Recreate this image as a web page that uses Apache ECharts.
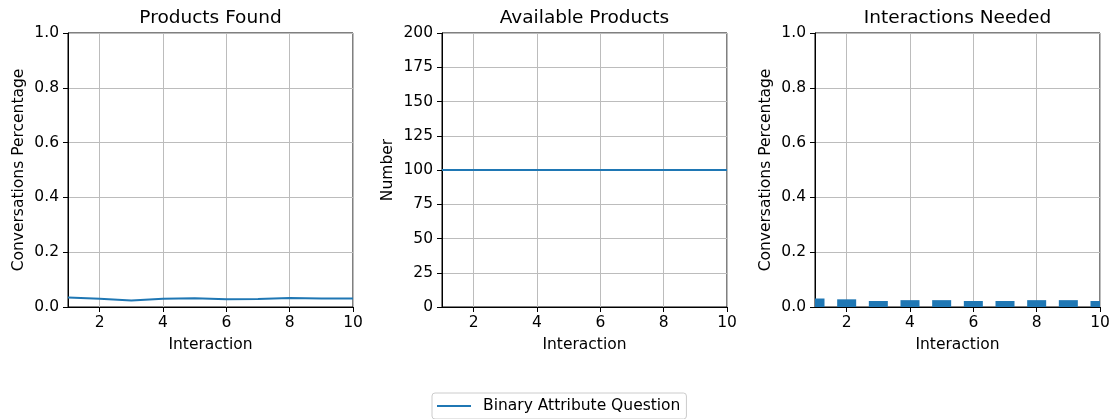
<!DOCTYPE html>
<html>
<head>
<meta charset="utf-8">
<script src="https://cdn.jsdelivr.net/npm/echarts@6/dist/echarts.min.js"></script>
<style>html,body{margin:0;padding:0;background:#fff;}#c{width:1113px;height:419px;}</style>
</head>
<body>
<div id="c"></div>
<script>
const interactions = [1, 2, 3, 4, 5, 6, 7, 8, 9, 10];
const productsFound = [0.035, 0.030, 0.024, 0.030, 0.032, 0.028, 0.029, 0.033, 0.031, 0.031];
const availableProducts = [100, 100, 100, 100, 100, 100, 100, 100, 100, 100];
const interactionsNeeded = [0.031, 0.028, 0.022, 0.025, 0.025, 0.022, 0.022, 0.025, 0.025, 0.022];
const barWidthUnits = 0.6;
const xTicks = [2, 4, 6, 8, 10];
const seriesName = 'Binary Attribute Question';
const titles = ['Products Found', 'Available Products', 'Interactions Needed'];

const FONT = 'DejaVu Sans';
const FS = 15.5;
const BLUE = '#1f77b4';
const GRIDC = '#bcbcbc';
const grids = [
  {left: 68, top: 33, width: 285, height: 274},
  {left: 442, top: 33, width: 285, height: 274},
  {left: 815, top: 33, width: 285, height: 274}
];
function xAxis(i) {
  return {
    type: 'value', gridIndex: i, min: 1, max: 10,
    name: 'Interaction', nameLocation: 'middle', nameGap: 30,
    nameTextStyle: {fontFamily: FONT, fontSize: FS, color: '#000'},
    axisLine: {show: true, onZero: false, lineStyle: {color: '#000', width: 1}},
    axisTick: {show: true, length: 5, lineStyle: {color: '#000'}, customValues: xTicks},
    axisLabel: {fontFamily: FONT, fontSize: FS, color: '#000', margin: 8, customValues: xTicks},
    splitLine: {show: true, lineStyle: {color: GRIDC, width: 1}}
  };
}
function yAxis(i, max, interval, name, gap, fmt) {
  return {
    type: 'value', gridIndex: i, min: 0, max: max, interval: interval,
    name: name, nameLocation: 'middle', nameGap: gap,
    nameTextStyle: {fontFamily: FONT, fontSize: FS, color: '#000'},
    axisLine: {show: true, lineStyle: {color: '#000', width: 1}},
    axisTick: {show: true, length: 5, lineStyle: {color: '#000'}},
    axisLabel: {fontFamily: FONT, fontSize: FS, color: '#000', margin: 9, formatter: fmt},
    splitLine: {show: true, lineStyle: {color: GRIDC, width: 1}}
  };
}
const pct = v => v.toFixed(1);
function renderBar(params, api) {
  const x = api.value(0), y = api.value(1);
  const top = api.coord([x, y]);
  const base = api.coord([x, 0]);
  const w = api.size([barWidthUnits, 0])[0];
  const cs = params.coordSys;
  const shape = echarts.graphic.clipRectByRect(
    {x: top[0] - w / 2, y: top[1], width: w, height: base[1] - top[1]},
    {x: cs.x, y: cs.y, width: cs.width, height: cs.height});
  return shape && {type: 'rect', shape: shape, style: {fill: BLUE}};
}
const option = {
  animation: false,
  backgroundColor: '#fff',
  title: titles.map((t, i) => ({
    text: t, left: grids[i].left + grids[i].width / 2, top: 9, textAlign: 'center', padding: 0,
    textStyle: {fontFamily: FONT, fontSize: 18.5, fontWeight: 'normal', color: '#000'}
  })),
  legend: {
    data: [seriesName], left: 432, top: 393,
    icon: 'rect', itemWidth: 34, itemHeight: 2,
    padding: [5, 6, 5, 5], borderColor: '#cccccc', borderWidth: 1, borderRadius: 3,
    textStyle: {fontFamily: FONT, fontSize: FS, color: '#000', padding: [0, 0, 0, 7]}
  },
  grid: grids.map(g => Object.assign({show: true, borderColor: '#000', borderWidth: 1, containLabel: false}, g)),
  xAxis: [xAxis(0), xAxis(1), xAxis(2)],
  yAxis: [
    yAxis(0, 1, 0.2, 'Conversations Percentage', 41, pct),
    yAxis(1, 200, 25, 'Number', 46, v => String(v)),
    yAxis(2, 1, 0.2, 'Conversations Percentage', 41, pct)
  ],
  series: [
    {name: seriesName, type: 'line', xAxisIndex: 0, yAxisIndex: 0, symbol: 'none',
     lineStyle: {color: BLUE, width: 2}, itemStyle: {color: BLUE},
     data: interactions.map((x, i) => [x, productsFound[i]])},
    {name: seriesName, type: 'line', xAxisIndex: 1, yAxisIndex: 1, symbol: 'none',
     lineStyle: {color: BLUE, width: 2}, itemStyle: {color: BLUE},
     data: interactions.map((x, i) => [x, availableProducts[i]])},
    {name: 'bars', type: 'custom', xAxisIndex: 2, yAxisIndex: 2, renderItem: renderBar,
     encode: {x: 0, y: 1},
     data: interactions.map((x, i) => [x, interactionsNeeded[i]])}
  ]
};
echarts.init(document.getElementById('c'), null, {renderer: 'canvas'}).setOption(option);
</script>
</body>
</html>
